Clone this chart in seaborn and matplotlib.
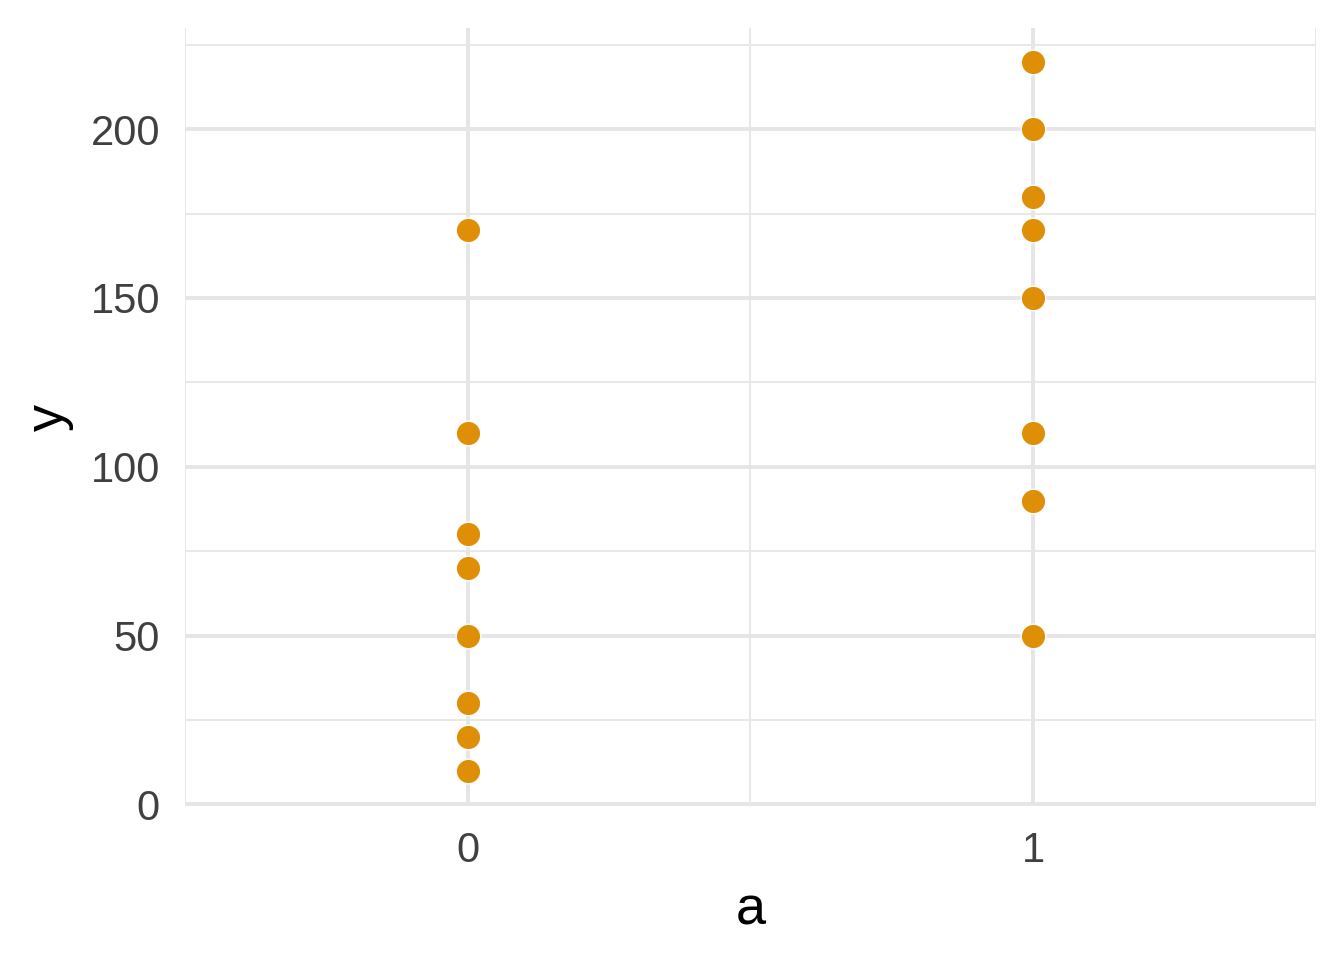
import pandas as pd
import matplotlib.pyplot as plt
import seaborn as sns
from matplotlib.ticker import MultipleLocator

a_values = [0, 0, 0, 0, 0, 0, 0, 0, 1, 1, 1, 1, 1, 1, 1, 1]
y_values = [170, 110, 80, 70, 50, 30, 20, 10, 220, 200, 180, 170, 150, 110, 90, 50]
x_ticks = [0, 1]
y_ticks = [0, 50, 100, 150, 200]

df = pd.DataFrame({'a': a_values, 'y': y_values})

sns.set_theme(style='whitegrid')
plt.rcParams['font.family'] = ['Liberation Sans', 'DejaVu Sans']

fig = plt.figure(figsize=(6.72, 4.8), dpi=200)
ax = fig.add_axes([0.1376, 0.16, 0.979 - 0.1376, 0.971 - 0.16])

sns.scatterplot(data=df, x='a', y='y', ax=ax, color='#DE8F05', s=78,
                edgecolor='white', linewidth=0.5, zorder=3)

ax.set_xlim(-0.5, 1.5)
ax.set_ylim(-0.6, 230)
ax.set_xticks(x_ticks)
ax.set_yticks(y_ticks)
ax.xaxis.set_minor_locator(MultipleLocator(0.5))
ax.yaxis.set_minor_locator(MultipleLocator(25))
ax.grid(which='major', color='#E5E5E5', linewidth=1.4)
ax.grid(which='minor', color='#E8E8E8', linewidth=0.7)
ax.set_axisbelow(True)
for spine in ax.spines.values():
    spine.set_visible(False)

ax.tick_params(axis='both', which='both', length=0, labelsize=15, labelcolor='#404040')
ax.tick_params(axis='x', pad=9)
ax.tick_params(axis='y', pad=9)
ax.set_xlabel('a', fontsize=19.5, color='black', labelpad=5)
ax.set_ylabel('y', fontsize=19.5, color='black', labelpad=6)

fig.savefig('out.png', dpi=200)
